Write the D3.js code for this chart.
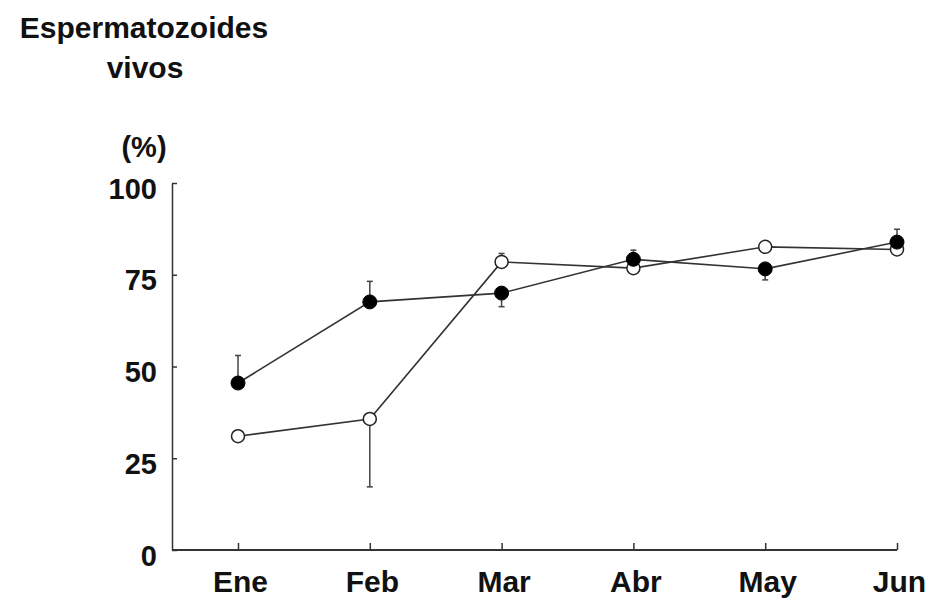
<!DOCTYPE html>
<html>
<head>
<meta charset="utf-8">
<script src="https://cdn.jsdelivr.net/npm/d3@7"></script>
<style>
  body { margin: 0; background: #fff; }
  text { font-family: "Liberation Sans", Arial, sans-serif; font-weight: bold; fill: #111; }
</style>
</head>
<body>
<div id="chart"></div>
<script>
// months on the x axis
var months = ["Ene", "Feb", "Mar", "Abr", "May", "Jun"];
var yTicks = [0, 25, 50, 75, 100];

// filled circles: mean and one-sided error end
var filledVals = [45.5, 67.6, 70.0, 79.2, 76.6, 83.9];
var filledErr  = [53.0, 73.2, 66.3, 81.7, 73.6, 87.4];
// open circles
var openVals = [31.0, 35.7, 78.5, 76.8, 82.6, 81.9];
var openErr  = [null, 17.2, 80.8, null, null, null];

var w = 932, h = 600;

var svg = d3.select("#chart").append("svg")
    .attr("width", w)
    .attr("height", h);

var x = d3.scalePoint().domain(months).range([238, 897]);
var y = d3.scaleLinear().domain([0, 100]).range([550, 183]);

// title
svg.append("text").attr("x", 144).attr("y", 38).attr("text-anchor", "middle")
    .style("font-size", "30px").text("Espermatozoides");
svg.append("text").attr("x", 145).attr("y", 78).attr("text-anchor", "middle")
    .style("font-size", "30px").text("vivos");
svg.append("text").attr("x", 144).attr("y", 157).attr("text-anchor", "middle")
    .style("font-size", "29px").text("(%)");

// y axis, ticks pointing inward
var yAxis = svg.append("g")
    .attr("transform", "translate(172,0)")
    .call(d3.axisLeft(y).tickValues(yTicks).tickSizeInner(-5).tickSizeOuter(0).tickPadding(15));
yAxis.selectAll("text").style("font-size", "29px").attr("dy", "0.52em");
yAxis.selectAll("line, path").attr("stroke", "#333").attr("stroke-width", 1.5);

// x axis line from the y axis to the last month
svg.append("line")
    .attr("x1", 172).attr("x2", x("Jun"))
    .attr("y1", y(0)).attr("y2", y(0))
    .attr("stroke", "#333").attr("stroke-width", 2);

var xAxis = svg.append("g")
    .attr("transform", "translate(0," + y(0) + ")")
    .call(d3.axisBottom(x).tickSizeInner(-7).tickSizeOuter(0).tickPadding(42));
xAxis.select(".domain").remove();
xAxis.selectAll("text").style("font-size", "30px").attr("dy", "0").attr("dx", "2");
xAxis.selectAll("line").attr("stroke", "#333").attr("stroke-width", 1.5);

var line = d3.line()
    .x(function(d, i) { return x(months[i]); })
    .y(function(d) { return y(d); });

function drawSeries(vals, errs) {
    var g = svg.append("g");
    // error bars, one-sided
    vals.forEach(function(v, i) {
        if (errs[i] == null) return;
        var cx = x(months[i]);
        g.append("line")
            .attr("x1", cx).attr("x2", cx)
            .attr("y1", y(v)).attr("y2", y(errs[i]))
            .attr("stroke", "#444").attr("stroke-width", 1.5);
        g.append("line")
            .attr("x1", cx - 3).attr("x2", cx + 3)
            .attr("y1", y(errs[i])).attr("y2", y(errs[i]))
            .attr("stroke", "#444").attr("stroke-width", 1.5);
    });
    g.append("path")
        .datum(vals)
        .attr("d", line)
        .attr("fill", "none")
        .attr("stroke", "#333")
        .attr("stroke-width", 1.6);
    return g;
}

var gOpen = drawSeries(openVals, openErr);
var gFilled = drawSeries(filledVals, filledErr);

gOpen.selectAll("circle")
    .data(openVals).enter().append("circle")
    .attr("cx", function(d, i) { return x(months[i]); })
    .attr("cy", function(d) { return y(d); })
    .attr("r", 6.5)
    .attr("fill", "#fff").attr("stroke", "#222").attr("stroke-width", 1.5);

gFilled.selectAll("circle")
    .data(filledVals).enter().append("circle")
    .attr("cx", function(d, i) { return x(months[i]); })
    .attr("cy", function(d) { return y(d); })
    .attr("r", 7)
    .attr("fill", "#000").attr("stroke", "#000").attr("stroke-width", 1);
</script>
</body>
</html>
